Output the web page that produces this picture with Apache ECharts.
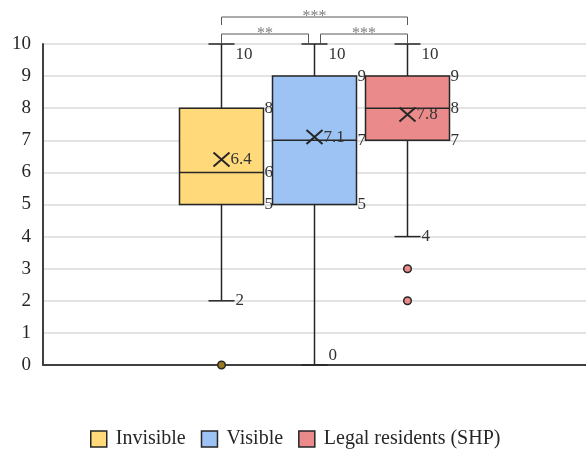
<!DOCTYPE html>
<html><head><meta charset="utf-8">
<script src="https://cdn.jsdelivr.net/npm/echarts@6/dist/echarts.min.js"></script>
<style>html,body{margin:0;padding:0;background:#fff}#c{width:586px;height:451px}</style>
</head><body><div id="c"></div>
<script>
// ---- data ----
const groups = ['Invisible', 'Visible', 'Legal residents (SHP)'];
const mins = [2, 0, 4];
const q1s = [5, 5, 7];
const medians = [6, 7, 8];
const q3s = [8, 9, 9];
const maxs = [10, 10, 10];
const means = [6.4, 7.1, 7.8];
const outliers = [[0], [], [3, 2]];
const meanLabels = ['6.4', '7.1', '7.8'];
// significance brackets
const sigFrom = [0, 0, 1];
const sigTo = [2, 1, 2];
const sigText = ['***', '**', '***'];
const sigLevel = [2, 1, 1];

// ---- style ----
const fills = ['#FFD97A', '#9DC3F5', '#EB8A8A'];
const outlierFills = ['#9a7a20', '#9DC3F5', '#EB8A8A'];
const INK = '#262626';
const OFFSETS = [-93, 0, 93];
const BOX_W = 84, CAP_W = 26;
const FONT = 'Liberation Serif';

function lbl(text, x, y, align, va) {
  return { type: 'text', z2: 20, style: { text: text, x: x, y: y, align: align, verticalAlign: va,
    font: '17px "' + FONT + '"', fill: '#333333' } };
}
function ln(x1, y1, x2, y2, w, col) {
  return { type: 'line', shape: { x1: x1, y1: y1, x2: x2, y2: y2 },
    style: { stroke: col || INK, lineWidth: w || 1.5 } };
}

function makeRender(i) {
  return function (params, api) {
    const off = OFFSETS[i];
    const P = v => { const p = api.coord([0, v]); return [p[0] + off, p[1]]; };
    const cx = P(0)[0];
    const yMin = P(api.value(1))[1], yQ1 = P(api.value(2))[1], yMed = P(api.value(3))[1],
          yQ3 = P(api.value(4))[1], yMax = P(api.value(5))[1], yMean = P(api.value(6))[1];
    const L = cx - BOX_W / 2, R = cx + BOX_W / 2;
    const ch = [];
    ch.push(ln(cx, yQ3, cx, yMax));
    ch.push(ln(cx, yQ1, cx, yMin));
    ch.push(ln(cx - CAP_W / 2, yMax, cx + CAP_W / 2, yMax));
    ch.push(ln(cx - CAP_W / 2, yMin, cx + CAP_W / 2, yMin));
    ch.push({ type: 'rect', shape: { x: L, y: yQ3, width: BOX_W, height: yQ1 - yQ3 },
      style: { fill: fills[i], stroke: INK, lineWidth: 1.5 } });
    ch.push(ln(L, yMed, R, yMed));
    ch.push(ln(cx - 8, yMean - 7, cx + 8, yMean + 7, 2));
    ch.push(ln(cx - 8, yMean + 7, cx + 8, yMean - 7, 2));
    outliers[i].forEach(v => {
      const p = P(v);
      ch.push({ type: 'circle', z2: 15, shape: { cx: cx, cy: p[1], r: 3.8 },
        style: { fill: outlierFills[i], stroke: INK, lineWidth: 1.5 } });
    });
    ch.push(lbl(String(maxs[i]), cx + CAP_W / 2 + 1, yMax + 2, 'left', 'top'));
    ch.push(lbl(String(q3s[i]), R + 1, yQ3, 'left', 'middle'));
    ch.push(lbl(String(medians[i]), R + 1, yMed, 'left', 'middle'));
    ch.push(lbl(String(q1s[i]), R + 1, yQ1, 'left', 'middle'));
    if (mins[i] === 0) ch.push(lbl(String(mins[i]), cx + CAP_W / 2 + 1, yMin - 1, 'left', 'bottom'));
    else ch.push(lbl(String(mins[i]), cx + CAP_W / 2 + 1, yMin, 'left', 'middle'));
    ch.push(lbl(meanLabels[i], cx + 9, yMean, 'left', 'middle'));
    return { type: 'group', children: ch };
  };
}

function renderSig(params, api) {
  const k = params.dataIndex;
  const top = api.coord([0, 10])[1];
  const base = api.coord([0, 10])[0];
  const a = sigFrom[k], b = sigTo[k];
  const x1 = base + OFFSETS[a] + (a === 1 ? 6 : 0);
  const x2 = base + OFFSETS[b] - (b === 1 ? 6 : 0);
  const y = sigLevel[k] === 1 ? top - 10 : top - 27;
  const yEnd = sigLevel[k] === 1 ? top - 1 : top - 19;
  const col = '#595959';
  return { type: 'group', children: [
    ln(x1, y, x2, y, 1, col), ln(x1, y, x1, yEnd, 1, col), ln(x2, y, x2, yEnd, 1, col),
    { type: 'text', style: { text: sigText[k], x: (x1 + x2) / 2, y: y + 8, align: 'center', verticalAlign: 'bottom',
      font: '16px "' + FONT + '"', fill: '#7f7f7f' } }
  ] };
}

const series = groups.map((g, i) => ({
  name: g, type: 'custom', renderItem: makeRender(i),
  itemStyle: { color: fills[i], borderColor: INK, borderWidth: 1.5 },
  encode: { x: 0, y: [1, 2, 3, 4, 5] },
  data: [[0, mins[i], q1s[i], medians[i], q3s[i], maxs[i], means[i]]],
  z: 3
}));
series.push({
  name: 'sig', type: 'custom', renderItem: renderSig,
  encode: { x: 0, y: 1 },
  data: sigFrom.map(() => [0, 10]),
  z: 4, silent: true
});

const chart = echarts.init(document.getElementById('c'));
chart.setOption({
  animation: false,
  grid: { left: 43, right: 0, top: 44, bottom: 86 },
  xAxis: { type: 'category', data: [''], axisTick: { show: false }, axisLabel: { show: false },
    axisLine: { lineStyle: { color: '#404040', width: 2 } }, splitLine: { show: false } },
  yAxis: { type: 'value', min: 0, max: 10, interval: 1,
    axisLine: { show: true, lineStyle: { color: '#404040', width: 2 } },
    axisTick: { show: false },
    axisLabel: { color: INK, fontFamily: FONT, fontSize: 19, margin: 12 },
    splitLine: { lineStyle: { color: '#e3e3e3', width: 2 } } },
  legend: {
    data: groups.map((g, i) => ({ name: g, itemStyle: { color: fills[i], borderColor: INK, borderWidth: 1.5 } })),
    icon: 'rect', top: 424, left: 85, itemWidth: 16, itemHeight: 16, itemGap: 15,
    textStyle: { fontFamily: FONT, fontSize: 20, color: INK, padding: [0, 0, 0, 4] }
  },
  series: series
});
</script></body></html>
